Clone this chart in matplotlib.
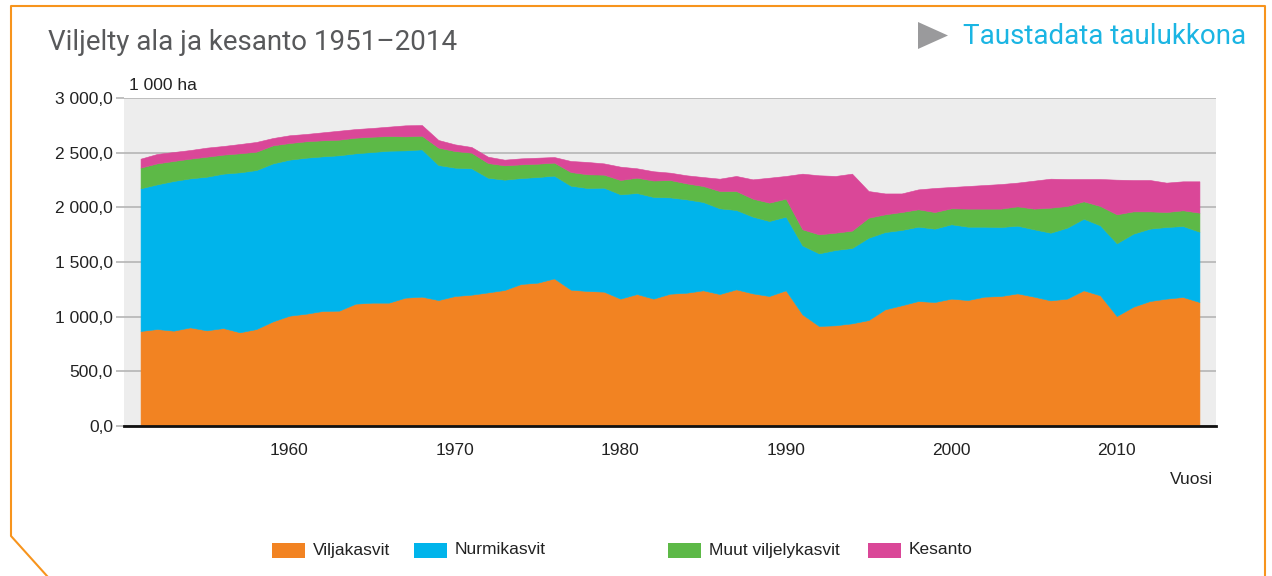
import numpy as np
import matplotlib.pyplot as plt
from matplotlib.lines import Line2D
from matplotlib.patches import Rectangle, Polygon

# Data (1 000 ha)
years = list(range(1951, 2016))
viljakasvit = [869, 887, 872, 902, 875, 896, 857, 887, 957, 1009,
               1027, 1052, 1055, 1119, 1128, 1128, 1174, 1183, 1152, 1189,
               1201, 1222, 1244, 1299, 1311, 1350, 1247, 1235, 1229, 1165,
               1207, 1165, 1210, 1219, 1241, 1207, 1250, 1213, 1189, 1241,
               1021, 915, 921, 939, 969, 1067, 1104, 1143, 1134, 1165,
               1152, 1183, 1189, 1213, 1183, 1149, 1165, 1241, 1195, 1006,
               1091, 1143, 1165, 1180, 1134]
nurmikasvit = [1305, 1323, 1369, 1363, 1405, 1412, 1463, 1454, 1445, 1427,
               1427, 1414, 1421, 1375, 1378, 1390, 1347, 1347, 1235, 1174,
               1156, 1049, 1009, 969, 966, 940, 951, 942, 951, 954,
               924, 930, 881, 854, 808, 784, 726, 702, 686, 674,
               631, 664, 689, 689, 753, 707, 689, 680, 671, 680,
               671, 640, 631, 619, 616, 619, 649, 655, 640, 665,
               668, 662, 655, 649, 643]
muut = [189, 192, 183, 180, 183, 174, 174, 168, 165, 152,
        150, 147, 143, 143, 140, 134, 128, 125, 159, 152,
        143, 134, 131, 125, 122, 119, 125, 125, 119, 131,
        140, 150, 159, 146, 146, 158, 173, 164, 168, 164,
        147, 174, 158, 159, 183, 162, 164, 159, 152, 146,
        165, 165, 168, 177, 189, 229, 198, 159, 177, 265,
        204, 158, 137, 144, 174]
kesanto = [82, 86, 82, 79, 83, 79, 85, 89, 67, 71,
           67, 73, 82, 79, 80, 86, 101, 98, 70, 61,
           52, 58, 52, 55, 55, 51, 101, 113, 103, 122,
           86, 85, 67, 74, 82, 113, 138, 177, 228, 208,
           509, 540, 519, 521, 244, 191, 170, 182, 220, 195,
           207, 216, 225, 217, 256, 265, 247, 204, 247, 317,
           287, 287, 269, 265, 287]

labels = ["Viljakasvit", "Nurmikasvit", "Muut viljelykasvit", "Kesanto"]
colors = ["#F28322", "#00B4EB", "#5DB947", "#DA4798"]

W, H = 1272, 576


def px(x, y):
    # pixel position -> figure fraction
    return x / W, 1 - y / H


plt.rcParams["font.family"] = ["Liberation Sans", "DejaVu Sans"]

fig = plt.figure(figsize=(W / 100, H / 100), dpi=100)
ax = fig.add_axes([124 / W, 1 - 426 / H, (1216 - 124) / W, (426 - 98) / H])
ax.set_facecolor("#EDEDED")

polys = ax.stackplot(years, viljakasvit, nurmikasvit, muut, kesanto,
                     colors=colors, linewidth=0.4)
for p, c in zip(polys, colors):
    p.set_edgecolor(c)

ax.set_xlim(1950, 2016)
ax.set_ylim(0, 3000)
ax.set_xticks(range(1960, 2011, 10))
ax.set_yticks(range(0, 3001, 500))
ax.set_yticklabels([f"{v:,.1f}".replace(",", " ").replace(".", ",")
                    for v in range(0, 3001, 500)])
ax.yaxis.grid(True, color="#B5B5B5", linewidth=1.2)
ax.set_axisbelow(True)
for s in ["top", "right", "left"]:
    ax.spines[s].set_visible(False)
ax.spines["bottom"].set_color("#111111")
ax.spines["bottom"].set_linewidth(2)
ax.spines["bottom"].set_zorder(5)
ax.tick_params(axis="x", length=0, pad=12, labelsize=12.5, labelcolor="#222222")
ax.tick_params(axis="y", length=6, color="#B5B5B5", width=1.2, pad=2,
               labelsize=12.5, labelcolor="#222222")

# unit label and axis title
fig.text(*px(129, 86), "1 000 ha", fontsize=12.5, color="#222222", va="center")
fig.text(*px(1213, 480), "Vuosi", fontsize=12.5, color="#222222",
         va="center", ha="right")

# title and link
fig.text(*px(48, 43), "Viljelty ala ja kesanto 1951–2014", fontsize=20,
         color="#58595B", va="center", family=["Roboto", "DejaVu Sans"])
fig.text(*px(963, 37), "Taustadata taulukkona", fontsize=20,
         color="#1BB5E3", va="center", family=["Roboto", "DejaVu Sans"])
fig.add_artist(Polygon([px(918, 22), px(918, 49), px(948, 35.5)],
                       closed=True, transform=fig.transFigure,
                       facecolor="#9A9A9C", edgecolor="none"))

# legend
leg_x = [272, 414, 668, 868]
for x0, lab, c in zip(leg_x, labels, colors):
    fig.add_artist(Rectangle(px(x0, 558), 33 / W, 15 / H,
                             transform=fig.transFigure, facecolor=c,
                             edgecolor="none"))
    fig.text(*px(x0 + 41, 550), lab, fontsize=12.5, color="#222222",
             va="center")

# orange frame with cut corner
frame_x = [47, 11, 11, 1265, 1265]
frame_y = [576, 536, 6, 6, 576]
fig.add_artist(Line2D([x / W for x in frame_x], [1 - y / H for y in frame_y],
                      transform=fig.transFigure, color="#F7941D",
                      linewidth=1.5))

fig.savefig("out.png", dpi=100, facecolor="white")
